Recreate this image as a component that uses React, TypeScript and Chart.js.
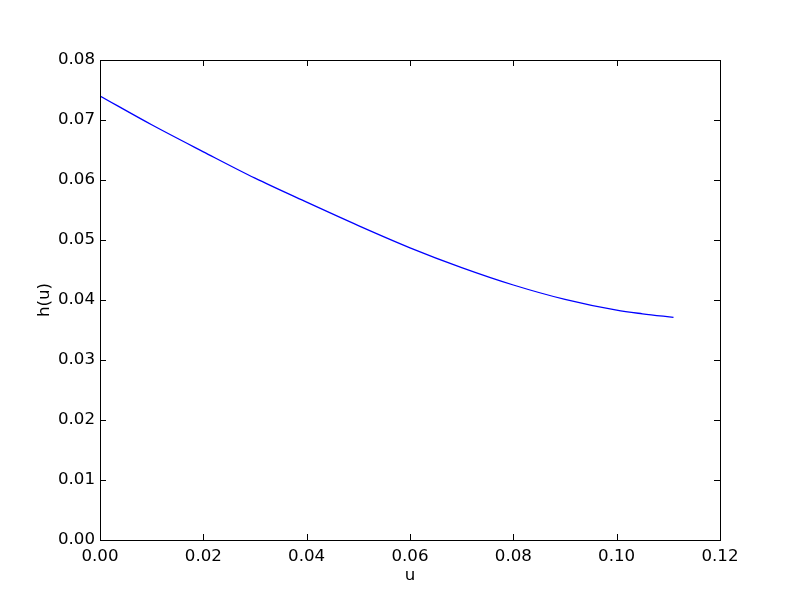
import React, { useEffect, useRef } from "react";
import { Chart, registerables } from "chart.js";

Chart.register(...registerables);

const uValues = [0, 0.01, 0.02, 0.03, 0.04, 0.05, 0.06, 0.07, 0.08, 0.09, 0.1, 0.105, 0.111];
const hValues = [0.074, 0.0692, 0.0647, 0.0603, 0.0563, 0.0524, 0.0487, 0.0454, 0.0425, 0.0401, 0.0383, 0.0377, 0.0371];
const xTicks = [0, 0.02, 0.04, 0.06, 0.08, 0.1, 0.12];
const yTicks = [0, 0.01, 0.02, 0.03, 0.04, 0.05, 0.06, 0.07, 0.08];

const FONT = "'DejaVu Sans', sans-serif";

const frameTicks = {
  id: "frameTicks",
  afterDraw(chart: any) {
    const { ctx, chartArea } = chart;
    const { left, right, top, bottom } = chartArea;
    const xs = chart.scales.x;
    const ys = chart.scales.y;
    const len = 6;
    ctx.save();
    ctx.strokeStyle = "#000";
    ctx.lineWidth = 1;
    ctx.beginPath();
    for (const v of xTicks) {
      const px = Math.round(xs.getPixelForValue(v)) + 0.5;
      ctx.moveTo(px, bottom);
      ctx.lineTo(px, bottom - len);
      ctx.moveTo(px, top);
      ctx.lineTo(px, top + len);
    }
    for (const v of yTicks) {
      const py = Math.round(ys.getPixelForValue(v)) + 0.5;
      ctx.moveTo(left, py);
      ctx.lineTo(left + len, py);
      ctx.moveTo(right, py);
      ctx.lineTo(right - len, py);
    }
    ctx.stroke();
    ctx.strokeRect(Math.round(left) + 0.5, Math.round(top) + 0.5, Math.round(right - left), Math.round(bottom - top));
    ctx.restore();
  },
};

export default function App() {
  const ref = useRef<HTMLCanvasElement | null>(null);
  useEffect(() => {
    if (!ref.current) return;
    const chart = new Chart(ref.current, {
      type: "line",
      data: {
        datasets: [
          {
            data: uValues.map((u, i) => ({ x: u, y: hValues[i] })),
            borderColor: "#0000ff",
            borderWidth: 1.3,
            pointRadius: 0,
            fill: false,
            cubicInterpolationMode: "monotone",
          },
        ],
      },
      options: {
        animation: false,
        responsive: false,
        layout: { padding: { left: 0, top: 60, right: 80, bottom: 0 } },
        plugins: { legend: { display: false }, tooltip: { enabled: false } },
        scales: {
          x: {
            type: "linear",
            min: 0,
            max: 0.12,
            afterFit: (s: any) => {
              s.height = 60;
            },
            afterBuildTicks: (s: any) => {
              s.ticks = xTicks.map((v) => ({ value: v }));
            },
            grid: { display: false, drawTicks: false },
            border: { display: false },
            ticks: {
              color: "#000",
              padding: 7,
              font: { family: FONT, size: 16.67 },
              maxRotation: 0,
              callback: (v: any) => Number(v).toFixed(2),
            },
            title: {
              display: true,
              text: "u",
              color: "#000",
              font: { family: FONT, size: 16.67 },
              padding: { top: 0, bottom: 14 },
            },
          },
          y: {
            type: "linear",
            min: 0,
            max: 0.08,
            afterFit: (s: any) => {
              s.width = 100;
            },
            afterBuildTicks: (s: any) => {
              s.ticks = yTicks.map((v) => ({ value: v }));
            },
            grid: { display: false, drawTicks: false },
            border: { display: false },
            ticks: {
              color: "#000",
              padding: 5,
              font: { family: FONT, size: 16.67 },
              callback: (v: any) => Number(v).toFixed(2),
            },
            title: {
              display: true,
              text: "h(u)",
              color: "#000",
              font: { family: FONT, size: 16.67 },
              padding: { top: 35, bottom: 0 },
            },
          },
        },
      },
      plugins: [frameTicks],
    } as any);
    return () => chart.destroy();
  }, []);
  return (
    <div style={{ position: "fixed", left: 0, top: 0, width: 800, height: 600, background: "#fff" }}>
      <canvas ref={ref} width={800} height={600} style={{ display: "block" }} />
    </div>
  );
}
